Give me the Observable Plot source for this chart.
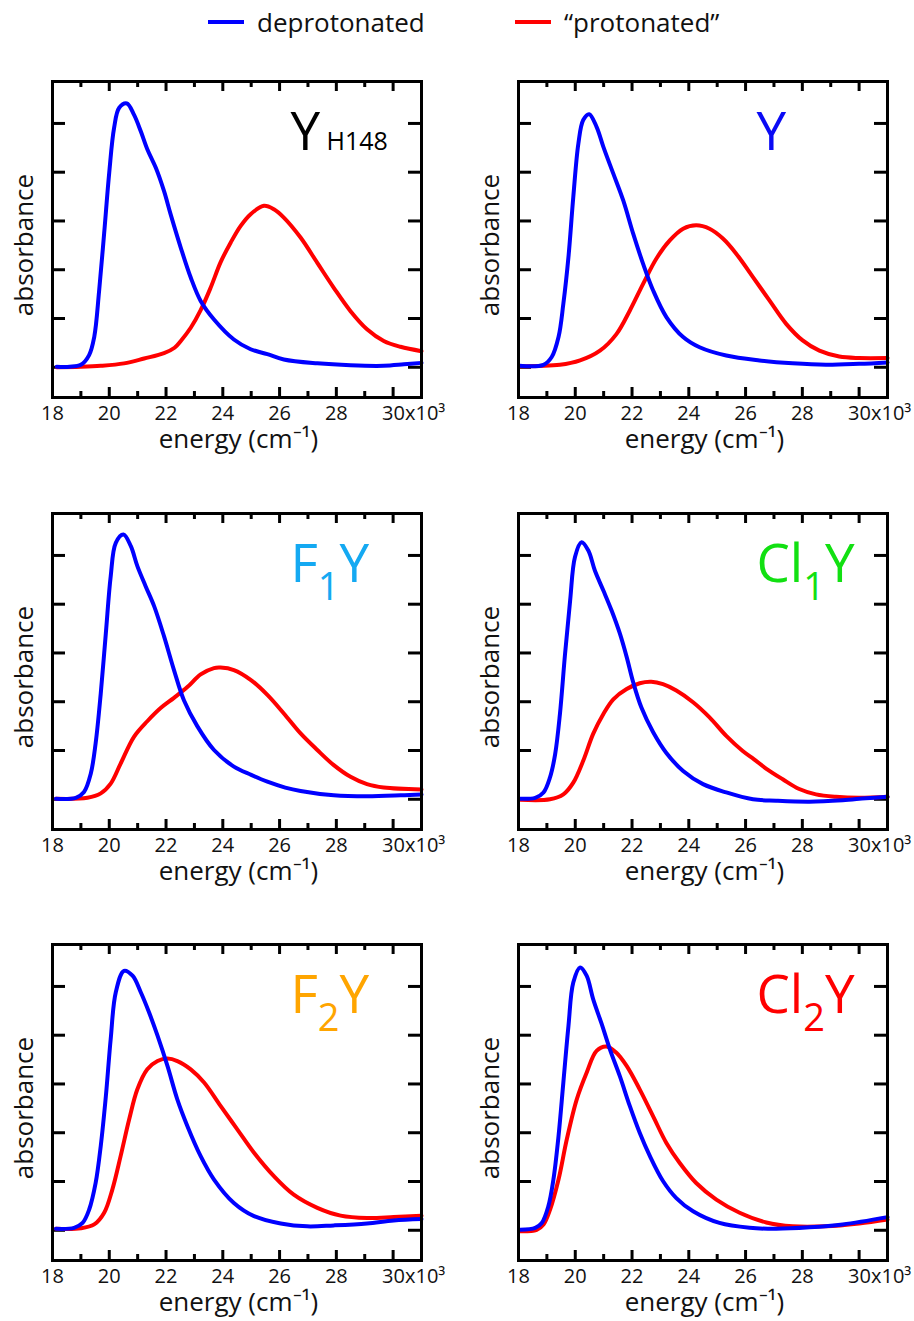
<!DOCTYPE html>
<html>
<head>
<meta charset="utf-8">
<script src="https://cdn.jsdelivr.net/npm/d3@7"></script>
<script src="https://cdn.jsdelivr.net/npm/@observablehq/plot@0.6"></script>
<style>
  html, body { margin: 0; padding: 0; background: #fff; }
  #page { position: relative; width: 914px; height: 1321px; overflow: hidden; font-family: "Open Sans", sans-serif; color: #111; }
  .legend-item { position: absolute; top: 6px; display: flex; align-items: center; font-size: 26px; line-height: 32px; }
  .legend-swatch { display: inline-block; width: 36px; height: 4px; margin-right: 13px; }
  .panel { position: absolute; width: 457px; height: 396px; }
  .panel svg { overflow: visible; max-width: none !important; display: block; }
</style>
</head>
<body>
<div id="page"></div>
<script>
// ---------- data ----------
const seriesNames = ["deprotonated", "\u201Cprotonated\u201D"];
const seriesColors = ["#0000ff", "#ff0000"];

const energyMajorTicks = [18, 20, 22, 24, 26, 28];
const energyLastTick = [30];
const energyMinorTicks = [19, 21, 23, 25, 27, 29];
const absorbanceTicks = [0, 1, 2, 3, 4, 5];
const energyLabel = "energy (cm\u207B\u00B9)";
const absorbanceLabel = "absorbance";

// [energy (10^3 cm^-1), absorbance (arb.)]
const yh148Deprotonated = [[18.15,0.01],[18.6,0.01],[19.0,0.05],[19.29,0.25],[19.47,0.62],[19.64,1.55],[19.82,2.75],[20.0,4.0],[20.17,4.91],[20.35,5.32],[20.62,5.41],[20.87,5.18],[21.11,4.84],[21.34,4.47],[21.64,4.09],[21.93,3.61],[22.16,3.14],[22.52,2.45],[22.87,1.84],[23.22,1.36],[23.69,0.98],[24.39,0.57],[24.98,0.37],[25.57,0.27],[26.15,0.16],[27.33,0.08],[28.5,0.04],[29.67,0.03],[30.38,0.06],[31.0,0.09]];
const yh148Protonated = [[18.15,0.0],[19.0,0.01],[19.7,0.03],[20.52,0.08],[21.23,0.18],[21.93,0.29],[22.3,0.4],[22.52,0.54],[22.87,0.81],[23.22,1.17],[23.57,1.63],[23.92,2.15],[24.28,2.56],[24.63,2.9],[24.98,3.14],[25.45,3.31],[25.8,3.24],[26.15,3.07],[26.74,2.66],[27.33,2.14],[27.91,1.63],[28.5,1.15],[29.08,0.78],[29.67,0.54],[30.26,0.42],[31.0,0.33]];

const yDeprotonated = [[18.04,0.03],[18.88,0.05],[19.17,0.21],[19.41,0.62],[19.58,1.3],[19.76,2.26],[19.93,3.49],[20.11,4.59],[20.28,5.07],[20.49,5.19],[20.75,4.93],[20.99,4.52],[21.34,3.97],[21.69,3.42],[22.04,2.74],[22.39,2.12],[22.74,1.58],[23.21,1.03],[23.8,0.62],[24.38,0.41],[25.32,0.24],[26.49,0.14],[27.66,0.08],[28.83,0.05],[30.0,0.07],[31.0,0.1]];
const yProtonated = [[18.04,0.02],[19.46,0.05],[20.17,0.14],[20.87,0.34],[21.45,0.68],[21.92,1.16],[22.39,1.71],[22.86,2.23],[23.33,2.6],[23.8,2.84],[24.26,2.91],[24.73,2.84],[25.2,2.64],[25.67,2.33],[26.26,1.85],[26.84,1.37],[27.43,0.89],[28.01,0.55],[28.6,0.34],[29.3,0.22],[30.0,0.19],[31.0,0.19]];

const f1yDeprotonated = [[18.12,0.01],[18.82,0.03],[19.11,0.15],[19.35,0.53],[19.52,1.15],[19.7,2.17],[19.88,3.41],[20.05,4.57],[20.23,5.26],[20.5,5.43],[20.76,5.19],[20.99,4.78],[21.28,4.37],[21.58,3.96],[21.93,3.34],[22.28,2.65],[22.63,2.03],[23.1,1.5],[23.69,1.01],[24.39,0.67],[25.0,0.5],[25.57,0.36],[26.2,0.24],[26.74,0.17],[27.91,0.08],[29.08,0.06],[30.26,0.08],[31.0,0.1]];
const f1yProtonated = [[18.12,0.01],[19.23,0.03],[19.7,0.12],[20.05,0.32],[20.4,0.73],[20.87,1.28],[21.34,1.6],[21.81,1.87],[22.28,2.08],[22.75,2.3],[23.22,2.56],[23.69,2.69],[23.92,2.7],[24.39,2.65],[24.98,2.45],[25.57,2.14],[26.15,1.76],[26.74,1.35],[27.33,1.01],[27.91,0.7],[28.5,0.46],[29.08,0.31],[29.67,0.24],[31.0,0.2]];

const cl1yDeprotonated = [[18.06,0.01],[18.59,0.03],[18.88,0.14],[19.11,0.45],[19.29,0.92],[19.46,1.75],[19.64,2.98],[19.82,4.08],[19.99,4.97],[20.22,5.27],[20.46,5.1],[20.69,4.69],[20.99,4.28],[21.28,3.87],[21.57,3.4],[21.81,2.92],[22.04,2.4],[22.33,1.88],[22.74,1.38],[23.21,0.95],[23.8,0.58],[24.5,0.31],[25.32,0.14],[26.26,0.0],[27.08,-0.03],[28.25,-0.05],[29.42,-0.02],[30.24,0.02],[31.0,0.05]];
const cl1yProtonated = [[18.06,-0.01],[19.11,0.0],[19.58,0.1],[19.93,0.34],[20.28,0.79],[20.63,1.34],[20.99,1.75],[21.34,2.05],[21.81,2.26],[22.27,2.38],[22.68,2.41],[23.09,2.36],[23.56,2.23],[24.15,1.99],[24.73,1.68],[25.32,1.3],[25.9,0.99],[26.3,0.82],[26.72,0.63],[27.31,0.41],[27.89,0.21],[28.48,0.1],[29.18,0.05],[30.0,0.03],[31.0,0.05]];

const f2yDeprotonated = [[18.12,0.03],[18.76,0.05],[19.06,0.15],[19.29,0.42],[19.52,0.97],[19.7,1.73],[19.88,2.75],[20.05,3.92],[20.23,4.88],[20.52,5.32],[20.82,5.22],[21.11,4.88],[21.4,4.47],[21.7,3.99],[22.05,3.37],[22.4,2.68],[22.75,2.14],[23.22,1.52],[23.69,1.04],[24.39,0.56],[25.1,0.29],[26.04,0.14],[26.97,0.08],[27.91,0.1],[29.08,0.14],[30.02,0.2],[31.0,0.23]];
const f2yProtonated = [[18.12,0.03],[19.0,0.04],[19.47,0.12],[19.82,0.36],[20.11,0.84],[20.4,1.52],[20.7,2.27],[20.99,2.89],[21.34,3.3],[21.7,3.47],[22.05,3.52],[22.4,3.47],[22.87,3.3],[23.34,3.03],[23.92,2.55],[24.51,2.07],[25.1,1.59],[25.8,1.11],[26.5,0.73],[27.33,0.46],[28.15,0.3],[29.08,0.25],[30.02,0.27],[31.0,0.3]];

const cl2yDeprotonated = [[18.06,0.01],[18.59,0.05],[18.82,0.15],[19.05,0.49],[19.23,1.04],[19.41,1.93],[19.58,3.03],[19.76,4.19],[19.93,5.08],[20.17,5.39],[20.4,5.22],[20.63,4.74],[20.93,4.23],[21.22,3.71],[21.57,3.16],[21.92,2.55],[22.27,2.0],[22.63,1.52],[23.09,1.01],[23.56,0.66],[24.15,0.39],[25.08,0.15],[26.14,0.05],[27.08,0.03],[28.25,0.06],[29.42,0.12],[31.0,0.27]];
const cl2yProtonated = [[18.06,-0.02],[18.64,0.01],[18.88,0.12],[19.11,0.42],[19.41,1.04],[19.7,1.86],[20.05,2.68],[20.4,3.23],[20.75,3.68],[21.1,3.77],[21.45,3.64],[21.81,3.37],[22.27,2.89],[22.74,2.34],[23.21,1.79],[23.68,1.38],[24.26,0.97],[24.97,0.63],[25.79,0.36],[26.73,0.16],[27.66,0.08],[28.83,0.08],[30.0,0.14],[31.0,0.22]];

// panel title pieces: [text, role]; role = main | sub | tag
const titleYH148 = [["Y", "main"], [" H148", "tag"]];
const titleY = [["Y", "main"]];
const titleF1Y = [["F", "main"], ["1", "sub"], ["Y", "main"]];
const titleCl1Y = [["Cl", "main"], ["1", "sub"], ["Y", "main"]];
const titleF2Y = [["F", "main"], ["2", "sub"], ["Y", "main"]];
const titleCl2Y = [["Cl", "main"], ["2", "sub"], ["Y", "main"]];

// ---------- layout / style ----------
const FONT = "'Open Sans', sans-serif";
const W = 457, H = 396, ML = 52, MR = 36, MT = 20, MB = 60;
const FW = W - ML - MR, FH = H - MT - MB;
const titleAnchor = [26.4, 4.45]; // energy, absorbance units

const panels = [
  {left: 0,   top: 61,  title: titleYH148, color: "#000000", deprot: yh148Deprotonated, prot: yh148Protonated},
  {left: 466, top: 61,  title: titleY,     color: "#0a0af5", deprot: yDeprotonated,     prot: yProtonated},
  {left: 0,   top: 493, title: titleF1Y,   color: "#14a9f2", deprot: f1yDeprotonated,   prot: f1yProtonated},
  {left: 466, top: 493, title: titleCl1Y,  color: "#12e012", deprot: cl1yDeprotonated,  prot: cl1yProtonated},
  {left: 0,   top: 924, title: titleF2Y,   color: "#ffa500", deprot: f2yDeprotonated,   prot: f2yProtonated},
  {left: 466, top: 924, title: titleCl2Y,  color: "#ff0000", deprot: cl2yDeprotonated,  prot: cl2yProtonated}
];

const page = document.getElementById("page");

// legend
const legendLefts = [208, 515];
seriesNames.forEach((name, i) => {
  const item = document.createElement("div");
  item.className = "legend-item";
  item.style.left = legendLefts[i] + "px";
  const sw = document.createElement("span");
  sw.className = "legend-swatch";
  sw.style.background = seriesColors[i];
  const tx = document.createElement("span");
  tx.textContent = name;
  item.appendChild(sw);
  item.appendChild(tx);
  page.appendChild(item);
});

const tickStyle = {stroke: "#000", strokeWidth: 3};

panels.forEach(p => {
  const chart = Plot.plot({
    width: W, height: H,
    marginLeft: ML, marginRight: MR, marginTop: MT, marginBottom: MB,
    style: {fontFamily: FONT, fontSize: "20px", background: "transparent", color: "#111"},
    x: {domain: [18, 31], axis: null},
    y: {domain: [-0.62, 5.86], axis: null},
    marks: [
      Plot.ruleX(energyMajorTicks.concat(energyLastTick), {...tickStyle, insetTop: FH - 10}),
      Plot.ruleX(energyMinorTicks, {...tickStyle, insetTop: FH - 6}),
      Plot.ruleX(energyMajorTicks.concat(energyLastTick), {...tickStyle, insetBottom: FH - 10}),
      Plot.ruleX(energyMinorTicks, {...tickStyle, insetBottom: FH - 6}),
      Plot.ruleY(absorbanceTicks, {...tickStyle, insetRight: FW - 13}),
      Plot.ruleY(absorbanceTicks, {...tickStyle, insetLeft: FW - 13}),
      Plot.line(p.prot, {x: d => d[0], y: d => d[1], stroke: seriesColors[1], strokeWidth: 4, curve: "catmull-rom"}),
      Plot.line(p.deprot, {x: d => d[0], y: d => d[1], stroke: seriesColors[0], strokeWidth: 4, curve: "catmull-rom"}),
      Plot.frame({stroke: "#000", strokeWidth: 3}),
      Plot.axisX(energyMajorTicks, {anchor: "bottom", tickSize: 0, tickPadding: 8, fontSize: 20, label: null}),
      Plot.axisX(energyLastTick, {anchor: "bottom", tickSize: 0, tickPadding: 8, fontSize: 20, label: null,
        textAnchor: "start", dx: -11, tickFormat: d => d + "x10\u00B3"})
    ]
  });

  const svg = d3.select(chart);
  // axis titles
  svg.append("text")
    .attr("transform", `translate(${ML - 19},${MT + FH / 2 + 6}) rotate(-90)`)
    .attr("text-anchor", "middle")
    .attr("font-size", 26)
    .attr("fill", "#111")
    .style("font-family", FONT)
    .text(absorbanceLabel);
  svg.append("text")
    .attr("x", ML + FW / 2 + 2)
    .attr("y", MT + FH + 51)
    .attr("text-anchor", "middle")
    .attr("font-size", 26)
    .attr("fill", "#111")
    .style("font-family", FONT)
    .text(energyLabel);

  // panel title
  const sx = chart.scale("x"), sy = chart.scale("y");
  const t = svg.append("text")
    .attr("x", sx.apply(titleAnchor[0]))
    .attr("y", sy.apply(titleAnchor[1]))
    .attr("text-anchor", "start")
    .attr("fill", p.color)
    .style("font-family", FONT);
  let shifted = 0;
  p.title.forEach(([txt, role]) => {
    const s = t.append("tspan").text(txt);
    if (role === "main") { s.attr("font-size", 53); if (shifted) { s.attr("dy", -shifted); shifted = 0; } }
    else if (role === "sub") { s.attr("font-size", 38).attr("dy", 18); shifted = 18; }
    else { s.attr("font-size", 25); }
  });

  const holder = document.createElement("div");
  holder.className = "panel";
  holder.style.left = p.left + "px";
  holder.style.top = p.top + "px";
  holder.appendChild(chart);
  page.appendChild(holder);
});
</script>
</body>
</html>
